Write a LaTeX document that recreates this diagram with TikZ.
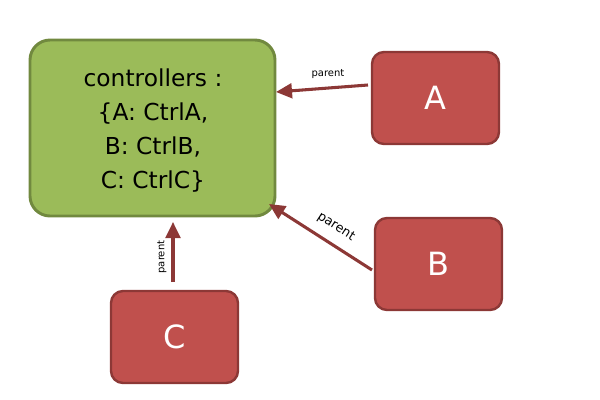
\documentclass[tikz,border=0pt]{standalone}
\usepackage{fontspec}
\setmainfont{DejaVu Sans}
\usetikzlibrary{arrows.meta}

\definecolor{ctrlgreen}{HTML}{9BBB59}
\definecolor{ctrlgreenline}{HTML}{71893F}
\definecolor{boxred}{HTML}{C0504D}
\definecolor{boxredline}{HTML}{8C3836}

\tikzset{
  ctrlbox/.style={draw=ctrlgreenline, fill=ctrlgreen, line width=2.2pt, rounded corners=15pt},
  kidbox/.style={draw=boxredline, fill=boxred, line width=1.8pt, rounded corners=9pt, minimum width=95.25pt, minimum height=69pt, text=white, font=\fontsize{24}{28}\selectfont},
  parentline/.style={draw=boxredline, line width=2.3pt, -{Triangle[length=12pt,width=11pt]}},
  parentlabel/.style={font=\fontsize{7.5}{9}\selectfont, inner sep=0.75pt}
}

\begin{document}
\begin{tikzpicture}[x=0.75pt,y=0.75pt,yscale=-1,xscale=1]
\useasboundingbox (0,0) rectangle (600,400);

%Shape: Rounded Rect [controllers]
\node (ctrl) [ctrlbox, minimum width=183.75pt, minimum height=132pt] at (152.5,128) {};
% Text Node
\node (ctrlText) [align=center, font=\fontsize{17.5}{25.5}\selectfont] at (153,131) {controllers :\\\{A: CtrlA,\\B: CtrlB,\\C: CtrlC\}};

%Shape: Rounded Rect [A], [B], [C]
\node (a) [kidbox] at (435.5,98) {A};
\node (b) [kidbox] at (438.5,264) {B};
\node (c) [kidbox] at (174.5,337) {C};

%Connector ends
\coordinate (ctrlA) at (276,92);
\coordinate (ctrlB) at (269,204);
\coordinate (ctrlC) at (173,222);
\coordinate (fromA) at (368,85);
\coordinate (fromB) at (372,270);
\coordinate (fromC) at (173,282);

%Connectors
\draw [parentline] (fromA) -- (ctrlA);
\draw [parentline] (fromB) -- (ctrlB);
\draw [parentline] (fromC) -- (ctrlC);

% Text Node
\node (labA) [parentlabel] at (328,74) {parent};
% Text Node
\node (labB) [parentlabel, rotate=-33, font=\fontsize{9.5}{11}\selectfont] at (336,227) {parent};
% Text Node
\node (labC) [parentlabel, rotate=90] at (162,257) {parent};

\end{tikzpicture}
\end{document}
